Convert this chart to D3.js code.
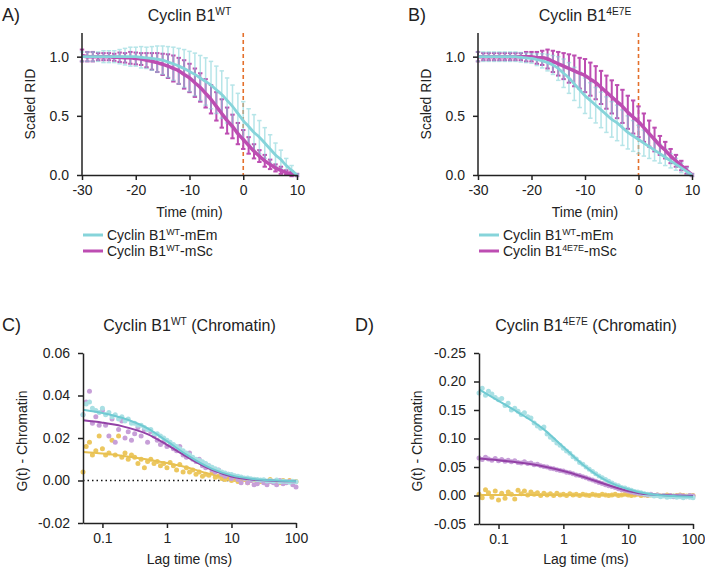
<!DOCTYPE html>
<html><head><meta charset="utf-8">
<script src="https://cdn.jsdelivr.net/npm/d3@7"></script>
<style>
body{margin:0;background:#fff;}
text{font-family:Arial,"Liberation Sans",Helvetica,sans-serif;fill:#222;}
</style></head><body>
<svg id="c" width="705" height="569"></svg>
<script>
// ---------- Panels A/B : time course ----------
const timeMin = [-30,-29,-28,-27,-26,-25,-24,-23,-22,-21,-20,-19,-18,-17,-16,-15,-14,-13,-12,-11,-10,-9,-8,-7,-6,-5,-4,-3,-2,-1,0,1,2,3,4,5,6,7,8,9,10];
const xTicksTime = [-30,-20,-10,0,10];
const yTicksRID = [0,0.5,1.0];

// Panel A
const wtEm   = [1.0,1.0,1.0,1.0,1.0,1.0,1.0,1.0,1.0,1.0,1.0,0.995,0.99,0.985,0.98,0.97,0.955,0.94,0.92,0.90,0.875,0.85,0.82,0.79,0.76,0.72,0.68,0.63,0.58,0.52,0.46,0.41,0.36,0.32,0.27,0.22,0.17,0.13,0.08,0.04,0.0];
const wtEmSD = [0.04,0.04,0.04,0.04,0.05,0.05,0.05,0.06,0.07,0.08,0.08,0.09,0.09,0.10,0.11,0.12,0.13,0.14,0.15,0.16,0.17,0.18,0.19,0.20,0.20,0.20,0.20,0.19,0.18,0.17,0.16,0.15,0.15,0.14,0.13,0.12,0.10,0.08,0.06,0.04,0.01];
const wtSc   = [1.01,1.0,1.0,1.0,1.0,1.0,0.995,0.995,0.99,0.99,0.985,0.98,0.97,0.96,0.95,0.935,0.92,0.90,0.88,0.85,0.82,0.78,0.74,0.69,0.64,0.58,0.52,0.46,0.41,0.35,0.30,0.25,0.20,0.16,0.12,0.09,0.06,0.04,0.02,0.01,0.0];
const wtScSD = [0.05,0.04,0.04,0.03,0.03,0.03,0.03,0.04,0.04,0.05,0.05,0.05,0.06,0.07,0.08,0.09,0.10,0.11,0.11,0.12,0.12,0.12,0.12,0.12,0.12,0.12,0.12,0.11,0.10,0.09,0.08,0.07,0.06,0.05,0.05,0.04,0.03,0.03,0.02,0.02,0.01];

// Panel B
const e7Em   = [1.0,1.0,1.0,1.0,1.0,1.0,1.0,1.0,0.995,0.99,0.985,0.975,0.965,0.95,0.93,0.90,0.86,0.82,0.77,0.72,0.67,0.63,0.59,0.55,0.51,0.47,0.44,0.40,0.36,0.33,0.30,0.27,0.24,0.21,0.18,0.15,0.12,0.09,0.06,0.03,0.0];
const e7EmSD = [0.04,0.04,0.04,0.04,0.04,0.04,0.04,0.04,0.04,0.04,0.04,0.05,0.06,0.07,0.08,0.10,0.12,0.13,0.14,0.15,0.15,0.15,0.15,0.15,0.15,0.15,0.15,0.15,0.14,0.13,0.12,0.11,0.10,0.09,0.08,0.07,0.06,0.05,0.04,0.03,0.01];
const e7Sc   = [1.0,1.0,1.0,1.0,1.0,1.0,1.0,1.0,1.0,1.0,1.0,0.99,0.99,0.98,0.96,0.94,0.92,0.90,0.88,0.86,0.84,0.81,0.78,0.74,0.70,0.66,0.62,0.58,0.53,0.49,0.45,0.40,0.35,0.30,0.25,0.21,0.16,0.12,0.08,0.04,0.0];
const e7ScSD = [0.04,0.03,0.03,0.03,0.03,0.03,0.03,0.03,0.03,0.04,0.04,0.05,0.06,0.08,0.09,0.10,0.11,0.12,0.13,0.13,0.14,0.14,0.14,0.14,0.14,0.14,0.14,0.14,0.14,0.14,0.13,0.12,0.11,0.10,0.08,0.07,0.06,0.05,0.04,0.03,0.01];

// ---------- Panels C/D : FCS ----------
const lagMs = [0.05,0.056,0.063,0.07,0.079,0.089,0.1,0.112,0.126,0.141,0.158,0.178,0.2,0.224,0.251,0.282,0.316,0.355,0.398,0.447,0.501,0.562,0.631,0.708,0.794,0.891,1,1.12,1.26,1.41,1.58,1.78,2,2.24,2.51,2.82,3.16,3.55,3.98,4.47,5.01,5.62,6.31,7.08,7.94,8.91,10,11.2,12.6,14.1,15.8,17.8,20,22.4,25.1,28.2,31.6,35.5,39.8,44.7,50.1,56.2,63.1,70.8,79.4,89.1,100];
const fitLagMs = [0.05,0.1,0.2,0.5,1,2,5,10,20,50,100];
const xTicksLag = [0.1,1,10,100];

// Panel C
const cCyan = [0.031,0.036,0.037,0.034,0.033,0.032,0.034,0.031,0.032,0.030,0.031,0.029,0.030,0.028,0.029,0.027,0.027,0.026,0.026,0.025,0.024,0.024,0.022,0.022,0.021,0.020,0.019,0.018,0.017,0.016,0.015,0.014,0.013,0.012,0.011,0.010,0.0095,0.0088,0.008,0.007,0.0062,0.0055,0.0048,0.004,0.0035,0.003,0.0028,0.0022,0.002,0.0016,0.0012,0.0012,0.0008,0.0006,0.0005,0.0002,0.0004,-0.0002,0.0,-0.0004,0.0002,-0.0006,-0.0003,-0.0005,-0.0008,-0.0004,-0.0006];
const cPurple = [0.031,0.037,0.042,0.027,0.030,0.026,0.033,0.026,0.021,0.029,0.018,0.024,0.028,0.020,0.023,0.019,0.022,0.025,0.021,0.024,0.018,0.023,0.021,0.019,0.017,0.018,0.016,0.017,0.015,0.014,0.016,0.012,0.011,0.013,0.010,0.009,0.010,0.007,0.006,0.007,0.005,0.004,0.005,0.003,0.002,0.003,0.001,0.002,0.0005,-0.001,0.001,-0.001,0.0,-0.002,-0.0015,0.0,-0.001,-0.002,-0.0005,-0.001,-0.002,0.0,-0.0015,-0.001,-0.0005,-0.002,-0.003];
const cYellow = [0.004,0.016,0.018,0.012,0.014,0.021,0.015,0.012,0.013,0.019,0.012,0.021,0.011,0.013,0.010,0.012,0.011,0.008,0.010,0.006,0.009,0.010,0.008,0.009,0.007,0.008,0.006,0.0085,0.007,0.005,0.0075,0.004,0.006,0.004,0.005,0.003,0.004,0.002,0.003,0.0025,0.004,0.0015,0.002,0.001,0.0005,0.001,0.0,0.0005,-0.0005,0.0,0.0005,-0.001,0.0,0.0005,-0.001,-0.0005,0.0,-0.001,0.0005,-0.0005,0.0,-0.001,0.0,-0.0005,0.0,-0.001,-0.0005];
const cCyanFit   = [0.0333,0.0318,0.0295,0.0245,0.0185,0.0122,0.0055,0.0024,0.0008,0.0000,-0.0003];
const cPurpleFit = [0.0283,0.0272,0.0256,0.0218,0.0168,0.0113,0.0050,0.0019,0.0005,-0.0002,-0.0004];
const cYellowFit = [0.0134,0.0127,0.0117,0.0099,0.0082,0.0062,0.0028,0.0009,0.0001,-0.0003,-0.0004];
const yTicksC = [-0.02,0,0.02,0.04,0.06];
const yTickLabelsC = ["-0.02","0.00","0.02","0.04","0.06"];

// Panel D
const dCyan = [0.180,0.188,0.176,0.183,0.178,0.172,0.168,0.170,0.158,0.162,0.150,0.153,0.148,0.142,0.145,0.138,0.136,0.127,0.122,0.118,0.120,0.108,0.102,0.098,0.092,0.088,0.083,0.078,0.074,0.068,0.064,0.058,0.055,0.050,0.046,0.042,0.038,0.034,0.031,0.028,0.025,0.022,0.019,0.017,0.014,0.013,0.011,0.009,0.007,0.006,0.005,0.003,0.002,0.001,-0.001,0.0,-0.002,-0.001,-0.003,-0.002,-0.001,-0.003,-0.002,-0.004,-0.002,-0.003,-0.004];
const dPurple = [0.066,0.063,0.067,0.064,0.062,0.065,0.061,0.063,0.060,0.062,0.059,0.061,0.058,0.057,0.059,0.056,0.057,0.054,0.055,0.052,0.051,0.050,0.048,0.047,0.045,0.044,0.043,0.041,0.040,0.038,0.036,0.035,0.033,0.031,0.029,0.027,0.025,0.023,0.021,0.019,0.017,0.016,0.014,0.012,0.010,0.009,0.008,0.006,0.005,0.004,0.003,0.002,0.001,0.002,0.0,0.001,-0.001,0.0,-0.001,0.0,-0.002,-0.001,0.0,-0.001,-0.002,0.0,-0.001];
const dYellow = [0.002,-0.004,0.010,0.005,-0.003,0.008,-0.008,0.004,-0.005,0.006,0.002,-0.006,0.009,0.003,0.008,0.001,0.006,0.002,0.005,0.000,0.004,0.001,0.003,0.000,0.004,0.001,0.002,0.000,0.003,0.001,0.002,0.000,0.002,0.001,0.000,0.002,0.001,0.000,0.002,0.001,0.000,0.001,0.002,0.000,0.001,0.002,0.001,0.000,0.001,0.002,0.000,0.001,0.000,0.001,0.000,0.001,-0.001,0.000,0.001,0.000,-0.001,0.000,0.001,0.000,-0.001,0.000,0.000];
const dCyanFit   = [0.186,0.166,0.146,0.116,0.085,0.054,0.024,0.011,0.003,-0.001,-0.002];
const dPurpleFit = [0.065,0.062,0.058,0.051,0.043,0.033,0.018,0.008,0.002,0.0,-0.001];
const dYellowFit = [0.001,0.001,0.001,0.001,0.001,0.001,0.001,0.001,0.001,0.001,0.001];
const yTicksD = [-0.05,0,0.05,0.10,0.15,0.20,0.25];
const yTickLabelsD = ["-0.05","0.00","0.05","0.10","0.15","0.20","-0.25"];

// ---------- colours ----------
const CYAN = "#86d4da", MAG = "#bd4db2", ORANGE = "#e4702c";
const FCS_CYAN = "#70cad2", FCS_CYAN_DOT = "#a9e0e4";
const FCS_PUR = "#9341a6", FCS_PUR_DOT = "#c79fd8";
const FCS_YEL = "#e8c151", FCS_YEL_DOT = "#ecc75f";
const AXIS = "#222";

const svg = d3.select("#c");
svg.append("rect").attr("width",705).attr("height",569).attr("fill","#fff");

function styleAxis(g, fs){
  g.select(".domain").attr("stroke",AXIS).attr("stroke-width",1.5);
  g.selectAll(".tick line").attr("stroke",AXIS).attr("stroke-width",1.5);
  g.selectAll(".tick text").attr("font-size",fs).attr("fill","#222")
    .attr("font-family","Arial, 'Liberation Sans', Helvetica, sans-serif");
}

function supText(x, y, size, parts, anchor){
  const t = svg.append("text").attr("x",x).attr("y",y).attr("font-size",size)
    .attr("text-anchor",anchor||"middle");
  let raised = false;
  parts.forEach(p=>{
    const ts = t.append("tspan").text(p.t);
    if(p.sup && !raised){ ts.attr("font-size",size*0.64).attr("dy",-size*0.36); raised = true; }
    else if(!p.sup && raised){ ts.attr("dy",size*0.36); raised = false; }
  });
  return t;
}

function panelRID(o){
  const x = d3.scaleLinear().domain([-30,10]).range([o.x0,o.x1]);
  const y = d3.scaleLinear().domain([0,1.2]).range([175,33]);
  const g = svg.append("g");
  g.append("line").attr("x1",x(0)).attr("x2",x(0)).attr("y1",y(1.2)).attr("y2",y(0))
    .attr("stroke",ORANGE).attr("stroke-width",1.6).attr("stroke-dasharray","4,3");
  function bars(mean, sd, color, w, cap, op){
    const gb = g.append("g").attr("stroke",color).attr("stroke-width",w).attr("opacity",op);
    timeMin.forEach((t,i)=>{
      const cx = x(t), yt = y(mean[i]+sd[i]), yb = y(Math.max(mean[i]-sd[i], -0.02));
      gb.append("line").attr("x1",cx).attr("x2",cx).attr("y1",yt).attr("y2",yb);
      gb.append("line").attr("x1",cx-cap).attr("x2",cx+cap).attr("y1",yt).attr("y2",yt);
      gb.append("line").attr("x1",cx-cap).attr("x2",cx+cap).attr("y1",yb).attr("y2",yb);
    });
  }
  const line = d3.line().x((d,i)=>x(timeMin[i])).y(d=>y(d)).curve(d3.curveMonotoneX);
  bars(o.sc, o.scSD, MAG, 2, 2.2, 1);
  bars(o.em, o.emSD, CYAN, 1.5, 2.2, 0.6);
  g.append("path").datum(o.sc).attr("d",line).attr("fill","none").attr("stroke",MAG).attr("stroke-width",3.5);
  g.append("path").datum(o.em).attr("d",line).attr("fill","none").attr("stroke",CYAN).attr("stroke-width",2.8);

  const ax = g.append("g").attr("transform",`translate(0,${y(0)})`)
    .call(d3.axisBottom(x).tickValues(xTicksTime).tickSize(5).tickSizeOuter(0).tickPadding(5).tickFormat(d=>String(d)));
  styleAxis(ax,14);
  const ay = g.append("g").attr("transform",`translate(${x(-30)},0)`)
    .call(d3.axisLeft(y).tickValues(yTicksRID).tickSize(5).tickSizeOuter(0).tickPadding(8).tickFormat(d=>d.toFixed(1)));
  styleAxis(ay,14);
  ay.select(".domain").attr("d",`M0,${y(1.2)}V${y(0)}`);

  svg.append("text").attr("x",(o.x0+o.x1)/2).attr("y",217).attr("text-anchor","middle").attr("font-size",14).text("Time (min)");
  svg.append("text").attr("transform",`translate(${o.ylabX},${104}) rotate(-90)`).attr("text-anchor","middle").attr("font-size",14).text("Scaled RID");
  supText((o.x0+o.x1)/2+ (o.titleDx||0), 21, 16, o.title);
  svg.append("text").attr("x",o.letterX).attr("y",21).attr("font-size",18).text(o.letter);
  // legend
  o.legend.forEach((L,i)=>{
    const ly = 235 + i*16;
    svg.append("line").attr("x1",o.x0+1).attr("x2",o.x0+21).attr("y1",ly).attr("y2",ly)
      .attr("stroke",L.c).attr("stroke-width",3);
    supText(o.x0+25, ly+5, 14, L.parts, "start");
  });
}

panelRID({x0:82,x1:297,em:wtEm,emSD:wtEmSD,sc:wtSc,scSD:wtScSD,ylabX:35,letterX:2,letter:"A)",
  title:[{t:"Cyclin B1"},{t:"WT",sup:true}],
  legend:[{c:CYAN,parts:[{t:"Cyclin B1"},{t:"WT",sup:true},{t:"-mEm"}]},
          {c:MAG,parts:[{t:"Cyclin B1"},{t:"WT",sup:true},{t:"-mSc"}]}]});
panelRID({x0:478,x1:692,em:e7Em,emSD:e7EmSD,sc:e7Sc,scSD:e7ScSD,ylabX:431,letterX:408,letter:"B)",
  title:[{t:"Cyclin B1"},{t:"4E7E",sup:true}],
  legend:[{c:CYAN,parts:[{t:"Cyclin B1"},{t:"WT",sup:true},{t:"-mEm"}]},
          {c:MAG,parts:[{t:"Cyclin B1"},{t:"4E7E",sup:true},{t:"-mSc"}]}]});

function panelFCS(o){
  const x = d3.scaleLog().domain([0.05,100]).range([o.x0,o.x1]);
  const y = d3.scaleLinear().domain(o.ydom).range([o.yb,353]);
  const g = svg.append("g");
  if(o.zeroLine){
    g.append("line").attr("x1",x(0.05)).attr("x2",x(100)).attr("y1",y(0)).attr("y2",y(0))
      .attr("stroke","#111").attr("stroke-width",1.4).attr("stroke-dasharray","1.5,3");
  }
  const dots = (vals,color)=>{
    g.append("g").selectAll("circle").data(vals).join("circle")
      .attr("cx",(d,i)=>x(lagMs[i])).attr("cy",d=>y(d)).attr("r",2.5).attr("fill",color);
  };
  const line = d3.line().x((d,i)=>x(fitLagMs[i])).y(d=>y(d)).curve(d3.curveMonotoneX);
  const fit = (vals,color)=>g.append("path").datum(vals).attr("d",line).attr("fill","none")
      .attr("stroke",color).attr("stroke-width",2);
  dots(o.yel, FCS_YEL_DOT);
  fit(o.yelFit, FCS_YEL);
  dots(o.pur, FCS_PUR_DOT);
  dots(o.cy, FCS_CYAN_DOT);
  fit(o.purFit, FCS_PUR);
  fit(o.cyFit, FCS_CYAN);

  const ax = g.append("g").attr("transform",`translate(0,${o.yb})`)
    .call(d3.axisBottom(x).tickValues(xTicksLag).tickSize(5).tickSizeOuter(0).tickPadding(5).tickFormat(d=>String(d)));
  styleAxis(ax,14);
  const ay = g.append("g").attr("transform",`translate(${o.x0},0)`)
    .call(d3.axisLeft(y).tickValues(o.yt).tickSize(5).tickSizeOuter(0).tickPadding(8).tickFormat((d,i)=>o.ytl[i]));
  styleAxis(ay,14);
  svg.append("text").attr("x",(o.x0+o.x1)/2).attr("y",564).attr("text-anchor","middle").attr("font-size",14).text("Lag time (ms)");
  svg.append("text").attr("transform",`translate(${o.ylabX},${441}) rotate(-90)`).attr("text-anchor","middle").attr("font-size",14).text("G(t) - Chromatin");
  supText((o.x0+o.x1)/2, 331, 16, o.title);
  svg.append("text").attr("x",o.letterX).attr("y",331).attr("font-size",18).text(o.letter);
}

panelFCS({x0:83,x1:296,yb:523,ydom:[-0.02,0.06],yt:yTicksC,ytl:yTickLabelsC,zeroLine:true,
  cy:cCyan,pur:cPurple,yel:cYellow,cyFit:cCyanFit,purFit:cPurpleFit,yelFit:cYellowFit,
  ylabX:27,letterX:2,letter:"C)",title:[{t:"Cyclin B1"},{t:"WT",sup:true},{t:" (Chromatin)"}]});
panelFCS({x0:479,x1:693,yb:524,ydom:[-0.05,0.25],yt:yTicksD,ytl:yTickLabelsD,zeroLine:false,
  cy:dCyan,pur:dPurple,yel:dYellow,cyFit:dCyanFit,purFit:dPurpleFit,yelFit:dYellowFit,
  ylabX:422,letterX:355,letter:"D)",title:[{t:"Cyclin B1"},{t:"4E7E",sup:true},{t:" (Chromatin)"}]});
</script>
</body></html>
